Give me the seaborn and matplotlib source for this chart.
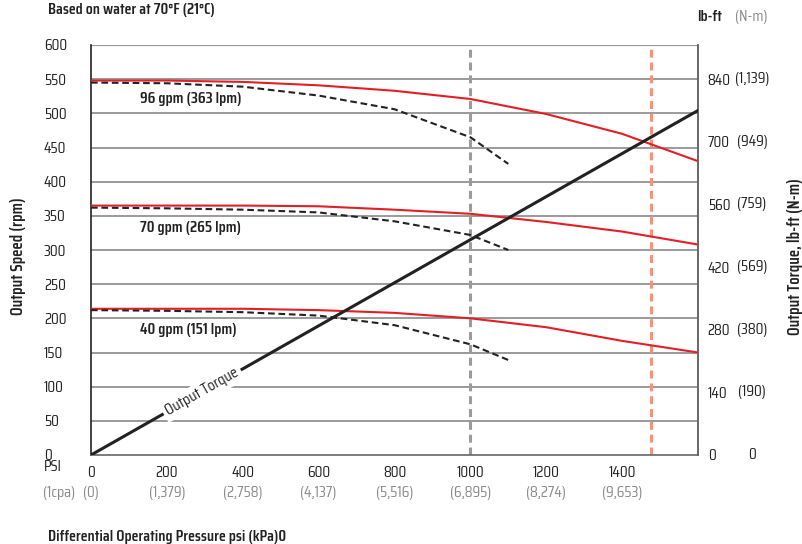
import numpy as np
import pandas as pd
import matplotlib
matplotlib.use("Agg")
import matplotlib.pyplot as plt
import matplotlib.transforms as mtransforms
from matplotlib import font_manager as fm
import seaborn as sns

# ---------------- data ----------------
psi_full = [0, 200, 400, 600, 800, 1000, 1200, 1400, 1600]
psi_short = [0, 200, 400, 600, 800, 1000, 1100]

red_96 = [548, 548, 546, 541, 533, 521, 499, 470, 430]
red_70 = [365, 365, 365, 364, 359, 353, 341, 327, 308]
red_40 = [214, 214, 214, 212, 208, 200, 187, 167, 150]

dash_96 = [545, 544, 539, 526, 506, 465, 426]
dash_70 = [362, 361, 359, 355, 342, 322, 300]
dash_40 = [212, 211, 209, 204, 190, 162, 139]

torque_psi = [0, 1600]
torque_lbft = [0, 770]

flow_labels = ["96 gpm (363 lpm)", "70 gpm (265 lpm)", "40 gpm (151 lpm)"]
flow_label_pos = [(129, 521), (129, 332), (129, 183)]

x_ticks = [0, 200, 400, 600, 800, 1000, 1200, 1400]
x_kpa = ["(0)", "(1,379)", "(2,758)", "(4,137)", "(5,516)", "(6,895)", "(8,274)", "(9,653)"]
y_ticks = list(range(0, 601, 50))
t_ticks = [0, 140, 280, 420, 560, 700, 840]
t_nm = ["0", "(190)", "(380)", "(569)", "(759)", "(949)", "(1,139)"]

gray_line_psi = 1000
salmon_line_psi = 1475

# ---------------- style ----------------
sns.set_style("white")
available = {f.name for f in fm.fontManager.ttflist}
prefs = ["Saira Semi Condensed", "Saira Condensed", "Barlow Semi Condensed",
         "Barlow Condensed", "IBM Plex Sans Condensed", "Roboto Condensed",
         "Liberation Sans Narrow"]
chosen = [p for p in prefs if p in available][:1]
plt.rcParams["font.family"] = chosen + ["DejaVu Sans"]
FS = 11.6
FS_AX = 12.2

DARK = "#222222"
GRAY = "#8a8a8a"
RED = "#e31e24"
SALMON = "#f3937b"
GRID = "#7f7f7f"

W, H = 802, 544
fig = plt.figure(figsize=(W / 100, H / 100), dpi=100)
ax = fig.add_axes([91 / W, 89 / H, 607 / W, 410 / H])

ax.set_xlim(0, 1600)
ax.set_ylim(0, 600)

for v in y_ticks[1:]:
    ax.axhline(v, color="#9a9a9a" if v == 600 else GRID,
               lw=1.6 if v == 600 else 1.1, zorder=1)

ax.axvline(gray_line_psi, color="#9b9b9b", lw=2.2, ls=(0, (2.6, 1.6)), zorder=2)
ax.axvline(salmon_line_psi, color=SALMON, lw=2.2, ls=(0, (2.6, 1.6)), zorder=2)

for vals in [red_96, red_70, red_40]:
    sns.lineplot(x=psi_full, y=vals, ax=ax, color=RED, lw=1.5, zorder=4)
for vals in [dash_96, dash_70, dash_40]:
    sns.lineplot(x=psi_short, y=vals, ax=ax, color=DARK, lw=1.5,
                 linestyle=(0, (3.2, 1.8)), zorder=4)

for lab, (px, py) in zip(flow_labels, flow_label_pos):
    ax.text(px, py, lab, ha="left", va="center", fontsize=FS,
            fontweight="semibold", color=DARK, zorder=6)

ax.spines["top"].set_visible(False)
ax.spines["left"].set_color(DARK)
ax.spines["left"].set_linewidth(1.2)
ax.spines["bottom"].set_color("#666666")
ax.spines["bottom"].set_linewidth(1.2)
ax.spines["right"].set_color("#666666")
ax.spines["right"].set_linewidth(1.2)

ax.set_xticks(x_ticks)
ax.set_xticklabels([str(t) for t in x_ticks], fontsize=FS, color=DARK)
ax.tick_params(axis="x", direction="out", length=6, width=1, color="#555555", pad=2)
ax.set_yticks(y_ticks)
ax.set_yticklabels([str(t) for t in y_ticks], fontsize=FS, color=DARK)
ax.tick_params(axis="y", length=0, pad=34)
for lbl in ax.get_yticklabels():
    lbl.set_horizontalalignment("left")
ax.set_xlabel("")
ax.set_ylabel("")

trans = mtransforms.blended_transform_factory(ax.transData, ax.transAxes)
for t, k in zip(x_ticks, x_kpa):
    ax.text(t, -38 / 410, k, transform=trans, ha="center", va="center",
            fontsize=FS, color=GRAY)

ax2 = ax.twinx()
ax2.set_ylim(0, 600 * 840 / 550)
ax2.set_xlim(0, 1600)
for s in ["top", "left", "bottom"]:
    ax2.spines[s].set_visible(False)
ax2.spines["right"].set_color("#666666")
ax2.spines["right"].set_linewidth(1.2)
sns.lineplot(x=torque_psi, y=torque_lbft, ax=ax2, color=DARK, lw=2.2, zorder=5)
ax2.set_yticks(t_ticks)
ax2.set_yticklabels([str(t) for t in t_ticks], fontsize=FS, color=DARK)
ax2.tick_params(axis="y", length=0, pad=7)
ax2.set_ylabel("")
trans2 = mtransforms.blended_transform_factory(ax2.transAxes, ax2.transData)
for t, k in zip(t_ticks, t_nm):
    ax2.text(1 + 54 / 607, t, k, transform=trans2, ha="center", va="center",
             fontsize=FS, color=DARK)

ang = np.degrees(np.arctan((torque_lbft[1] / (600 * 840 / 550) * 410) / 607))
ax2.text(293, torque_lbft[1] / torque_psi[1] * 293, "Output Torque", rotation=ang,
         rotation_mode="anchor", ha="center", va="center", fontsize=FS, color=DARK,
         zorder=7, bbox=dict(facecolor="white", edgecolor="none", pad=2.5))

fig.text(48 / W, 1 - 10 / H, "Based on water at 70°F (21°C)", ha="left", va="center",
         fontsize=FS, fontweight="semibold", color=DARK)
fig.text(697 / W, 1 - 17 / H, "lb-ft", ha="left", va="center",
         fontsize=FS, fontweight="semibold", color=DARK)
fig.text(735 / W, 1 - 17 / H, "(N-m)", ha="left", va="center",
         fontsize=FS, color=GRAY)
fig.text(44 / W, 1 - 467 / H, "PSI", ha="left", va="center", fontsize=FS, color=DARK)
fig.text(43 / W, 1 - 493 / H, "(1cpa)", ha="left", va="center", fontsize=FS, color=GRAY)
fig.text(48 / W, 1 - 537 / H, "Differential Operating Pressure psi (kPa)0", ha="left",
         va="center", fontsize=FS, fontweight="semibold", color=DARK)
fig.text(18 / W, 1 - 256 / H, "Output Speed (rpm)", rotation=90, ha="center",
         va="center", fontsize=FS_AX, fontweight="semibold", color=DARK)
fig.text(795 / W, 1 - 257 / H, "Output Torque, lb-ft (N-m)", rotation=90, ha="center",
         va="center", fontsize=FS_AX, fontweight="semibold", color=DARK)

fig.savefig("out.png", dpi=100)
